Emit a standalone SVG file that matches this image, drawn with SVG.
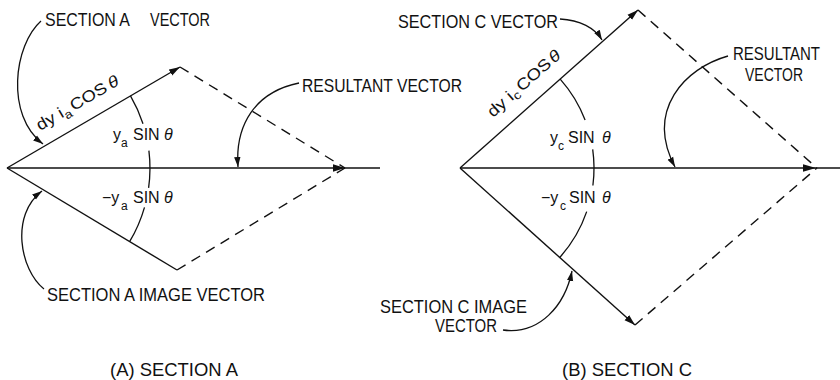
<svg xmlns="http://www.w3.org/2000/svg" width="840" height="380" viewBox="0 0 840 380">
<style>
.ln{stroke:#111;stroke-width:1.4;fill:none}
.ds{stroke:#111;stroke-width:1.4;fill:none;stroke-dasharray:10 7}
.ld{stroke:#111;stroke-width:1.3;fill:none}
text{font-family:"Liberation Sans",Arial,sans-serif;fill:#111}
.lb{font-size:18px}
.sm{font-size:16px}
.sub{font-size:12px}
.th{font-style:italic}
</style>
<defs>
<marker id="ah" markerUnits="userSpaceOnUse" markerWidth="12" markerHeight="8" refX="11" refY="4" orient="auto">
<path d="M0,0.6 L11,4 L0,7.4 z" fill="#111"/>
</marker>
<marker id="la" markerUnits="userSpaceOnUse" markerWidth="11" markerHeight="8" refX="10" refY="4" orient="auto">
<path d="M0,0.8 L10,4 L0,7.2 z" fill="#111"/>
</marker>
</defs>

<g id="connectors">
<!-- Section A -->
<line class="ln" x1="7" y1="168" x2="380" y2="168"/>
<polygon points="345,168 333,164.2 333,171.8" fill="#111"/>
<line class="ln" x1="7" y1="168" x2="180" y2="67" marker-end="url(#ah)"/>
<line class="ln" x1="7" y1="168" x2="177" y2="270"/>
<line class="ds" x1="180" y1="67" x2="345" y2="168"/>
<line class="ds" x1="177" y1="270" x2="345" y2="168"/>
<path class="ld" d="M130.5,95.8 A143,143 0 0 1 143,123.8"/>
<path class="ld" d="M148.9,150.6 A143,143 0 0 1 148.6,187.9"/>
<path class="ld" d="M144.5,207.4 A143,143 0 0 1 129.6,241.7"/>
<path class="ld" d="M41,21 C14,45 5,115 43,144" marker-end="url(#la)"/>
<path class="ld" d="M299,83 C255,92 235,125 238,167" marker-end="url(#la)"/>
<path class="ld" d="M44,289 C20,270 10,215 42,191" marker-end="url(#la)"/>
<!-- Section C -->
<line class="ln" x1="460" y1="168" x2="840" y2="168"/>
<polygon points="816,168 803,164.2 803,171.8" fill="#111"/>
<line class="ln" x1="460" y1="168" x2="638" y2="10" marker-end="url(#ah)"/>
<line class="ln" x1="460" y1="168" x2="635" y2="325" marker-end="url(#ah)"/>
<line class="ds" x1="638" y1="10" x2="817" y2="168"/>
<line class="ds" x1="635" y1="325" x2="817" y2="168"/>
<path class="ld" d="M560.2,79.1 A134,134 0 0 1 585.1,120"/>
<path class="ld" d="M592.7,149.4 A134,134 0 0 1 592.9,185.5"/>
<path class="ld" d="M586.7,211.6 A134,134 0 0 1 559.7,257.5"/>
<path class="ld" d="M560,19 C580,20 595,28 602,40" marker-end="url(#la)"/>
<path class="ld" d="M728,56 C685,68 645,110 675,167" marker-end="url(#la)"/>
<path class="ld" d="M503,330 C540,335 565,305 572,271" marker-end="url(#la)"/>
</g>

<g id="section-a-vector"><text class="lb" x="45" y="26" textLength="85" lengthAdjust="spacingAndGlyphs">SECTION A</text><text class="lb" x="150" y="26" textLength="60" lengthAdjust="spacingAndGlyphs">VECTOR</text></g>
<g id="resultant-a"><text class="lb" x="302" y="92" textLength="160" lengthAdjust="spacingAndGlyphs">RESULTANT VECTOR</text></g>
<g id="section-a-image"><text class="lb" x="47" y="301" textLength="218" lengthAdjust="spacingAndGlyphs">SECTION A IMAGE VECTOR</text></g>
<g id="caption-a"><text class="lb" x="110" y="376" textLength="128" lengthAdjust="spacingAndGlyphs">(A) SECTION A</text></g>

<g id="label-dy-ia"><text class="sm" transform="translate(40,131) rotate(-30.3)" textLength="93" lengthAdjust="spacingAndGlyphs">dy <tspan>i</tspan><tspan class="sub" dy="4">a</tspan><tspan dy="-4" dx="2">COS</tspan><tspan class="th" dx="3">θ</tspan></text></g>
<g id="label-ya"><text class="sm" y="140"><tspan x="113">y</tspan><tspan class="sub" x="121" dy="7">a</tspan><tspan x="133" dy="-7">SIN</tspan><tspan class="th" x="164">θ</tspan></text></g>
<g id="label-mya"><text class="sm" y="203"><tspan x="102">−y</tspan><tspan class="sub" x="121" dy="7">a</tspan><tspan x="133" dy="-7">SIN</tspan><tspan class="th" x="164">θ</tspan></text></g>

<g id="section-c-vector"><text class="lb" x="398" y="28" textLength="160" lengthAdjust="spacingAndGlyphs">SECTION C VECTOR</text></g>
<g id="resultant-c"><text class="lb" x="733" y="60" textLength="87" lengthAdjust="spacingAndGlyphs">RESULTANT</text><text class="lb" x="745" y="81" textLength="58" lengthAdjust="spacingAndGlyphs">VECTOR</text></g>
<g id="section-c-image"><text class="lb" x="380" y="313" textLength="147" lengthAdjust="spacingAndGlyphs">SECTION C IMAGE</text><text class="lb" x="435" y="332" textLength="62" lengthAdjust="spacingAndGlyphs">VECTOR</text></g>
<g id="caption-c"><text class="lb" x="562" y="376" textLength="130" lengthAdjust="spacingAndGlyphs">(B) SECTION C</text></g>

<g id="label-dy-ic"><text class="sm" transform="translate(493,118) rotate(-41.6)" textLength="92" lengthAdjust="spacingAndGlyphs">dy <tspan>i</tspan><tspan class="sub" dy="3">c</tspan><tspan dy="-3" dx="2">COS</tspan><tspan class="th" dx="2">θ</tspan></text></g>
<g id="label-yc"><text class="sm" y="143"><tspan x="550">y</tspan><tspan class="sub" x="558" dy="7">c</tspan><tspan x="568" dy="-7">SIN</tspan><tspan class="th" x="602">θ</tspan></text></g>
<g id="label-myc"><text class="sm" y="203"><tspan x="541">−y</tspan><tspan class="sub" x="560" dy="7">c</tspan><tspan x="569" dy="-7">SIN</tspan><tspan class="th" x="602">θ</tspan></text></g>
</svg>
